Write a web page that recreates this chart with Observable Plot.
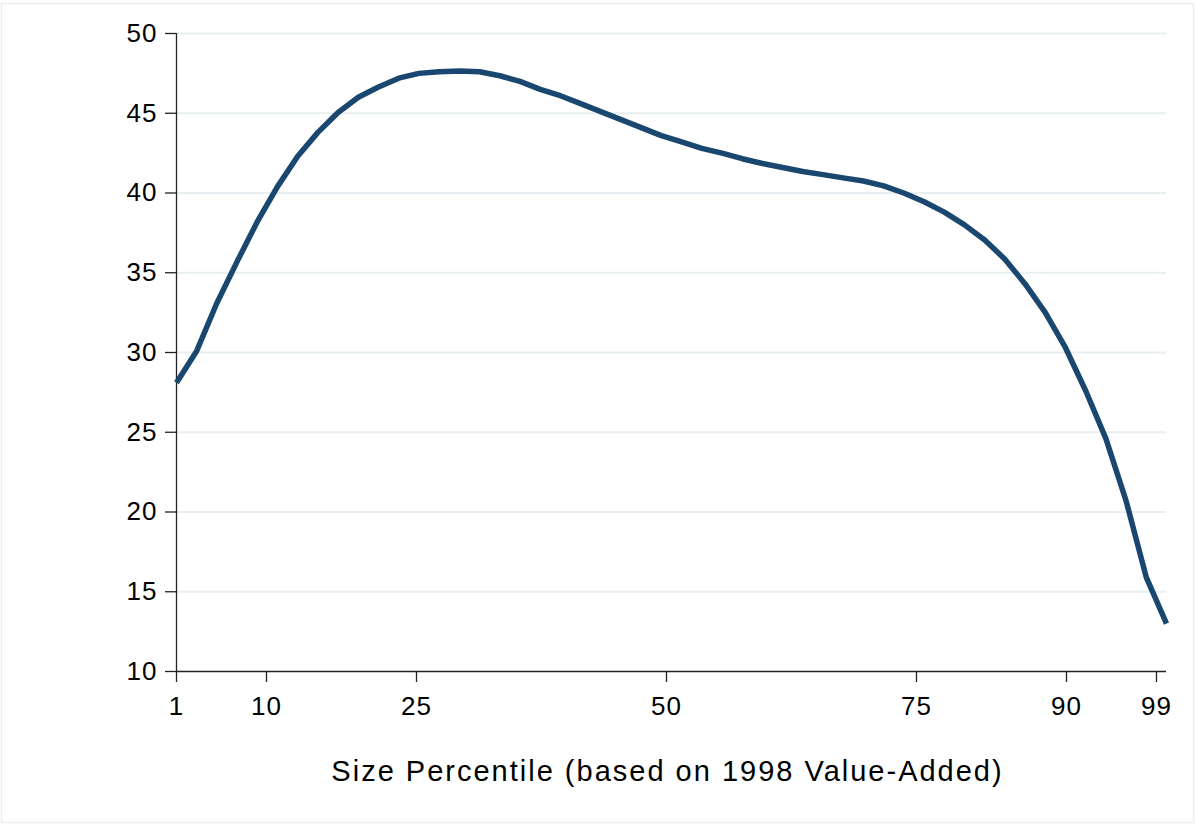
<!DOCTYPE html>
<html>
<head>
<meta charset="utf-8">
<script src="https://cdn.jsdelivr.net/npm/d3@7"></script>
<script src="https://cdn.jsdelivr.net/npm/@observablehq/plot@0.6"></script>
<style>
  html, body { margin: 0; padding: 0; background: #fff; }
  #chart { width: 1195px; height: 825px; }
</style>
</head>
<body>
<div id="chart"></div>
<script>
// Size percentile (x) and value (y)
const percentiles = [1, 3.02, 5.04, 7.06, 9.08, 11.1, 13.12, 15.14, 17.16, 19.18,
  21.2, 23.22, 25.24, 27.27, 29.29, 31.31, 33.33, 35.35, 37.37, 39.39,
  41.41, 43.43, 45.45, 47.47, 49.49, 51.51, 53.53, 55.55, 57.57, 59.59,
  61.61, 63.63, 65.65, 67.67, 69.69, 71.71, 73.73, 75.76, 77.78, 79.8,
  81.82, 83.84, 85.86, 87.88, 89.9, 91.92, 93.94, 95.96, 97.98, 100];
const values = [28.1, 30.1, 33.1, 35.7, 38.2, 40.4, 42.3, 43.8, 45.05, 46.0,
  46.65, 47.2, 47.5, 47.6, 47.65, 47.6, 47.35, 47.0, 46.5, 46.1,
  45.6, 45.1, 44.6, 44.1, 43.6, 43.2, 42.8, 42.5, 42.15, 41.85,
  41.6, 41.35, 41.15, 40.95, 40.75, 40.45, 40.0, 39.45, 38.8, 38.0,
  37.05, 35.85, 34.3, 32.5, 30.3, 27.6, 24.6, 20.7, 15.9, 13.0];
const xTicks = [1, 10, 25, 50, 75, 90, 99];
const yTicks = [10, 15, 20, 25, 30, 35, 40, 45, 50];
const gridTicks = [15, 20, 25, 30, 35, 40, 45, 50];
const xLabel = "Size Percentile (based on 1998 Value-Added)";

const data = percentiles.map((p, i) => ({p, v: values[i]}));

const chart = Plot.plot({
  width: 1195,
  height: 825,
  marginLeft: 176,
  marginRight: 29,
  marginTop: 33,
  marginBottom: 154,
  style: {fontFamily: "'Liberation Sans', Arial, Helvetica, sans-serif", fontSize: "26px", color: "#000", background: "#fff", letterSpacing: "1px"},
  x: {domain: [1, 100]},
  y: {domain: [10, 50]},
  marks: [
    Plot.gridY(gridTicks, {stroke: "#e7eff2", strokeOpacity: 1, strokeWidth: 2}),
    Plot.axisY({ticks: yTicks, tickSize: 11, tickPadding: 8, label: null, fontSize: 26, stroke: "#222", strokeWidth: 1.3}),
    Plot.axisX({ticks: xTicks, tickSize: 11, tickPadding: 14, label: null, fontSize: 26, stroke: "#222", strokeWidth: 1.3}),
    Plot.ruleX([1], {stroke: "#222", strokeWidth: 1.3}),
    Plot.ruleY([10], {stroke: "#222", strokeWidth: 1.3}),
    Plot.line(data, {x: "p", y: "v", stroke: "#1a476f", strokeWidth: 5.5, strokeLinejoin: "miter", strokeLinecap: "butt"}),
    Plot.text([xLabel], {frameAnchor: "bottom", dx: -4, dy: 109, lineAnchor: "bottom", fontSize: 29, fill: "#000", text: d => d})
  ]
});

const svg = d3.select(chart);
svg.selectAll("text").filter(function() { return this.textContent === xLabel; })
  .style("letter-spacing", "2px");
svg.append("rect")
  .attr("x", 1.5).attr("y", 3.5).attr("width", 1192).attr("height", 819)
  .attr("fill", "none").attr("stroke", "#e8eef1").attr("stroke-width", 1.5);

document.getElementById("chart").appendChild(chart);
</script>
</body>
</html>
